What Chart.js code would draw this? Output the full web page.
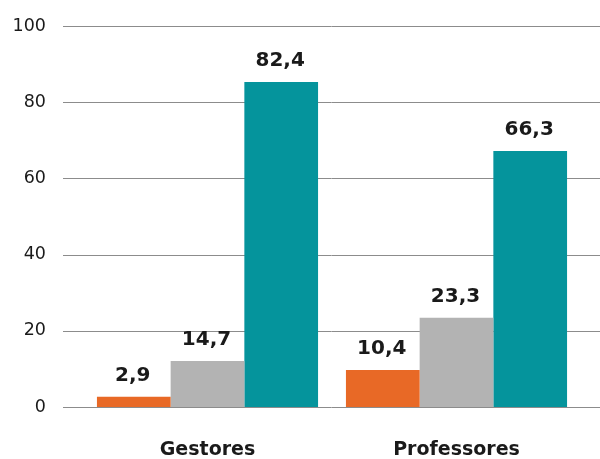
<!DOCTYPE html>
<html>
<head>
<meta charset="utf-8">
<script src="https://cdn.jsdelivr.net/npm/chart.js@4.4.1/dist/chart.umd.min.js"></script>
<style>
  html, body { margin: 0; padding: 0; background: #fff; }
  #wrap { width: 600px; height: 459px; }
</style>
</head>
<body>
<div id="wrap"><canvas id="myChart"></canvas></div>
<script>
// dados
const categorias = ['Gestores', 'Professores'];
const serieLaranja = [2.7, 9.7];
const serieCinza = [12.1, 23.4];
const serieVerde = [85.3, 67.2];
const rotulosLaranja = ['2,9', '10,4'];
const rotulosCinza = ['14,7', '23,3'];
const rotulosVerde = ['82,4', '66,3'];

const corTexto = '#1a1a1a';
const fonte = "'DejaVu Sans', sans-serif";

// linhas de grade horizontais, um pouco mais largas que a area do grafico
const grade = {
  id: 'grade',
  beforeDatasetsDraw: (chart) => {
    const ctx = chart.ctx;
    const y = chart.scales.y;
    ctx.save();
    ctx.strokeStyle = '#8c8c8c';
    ctx.lineWidth = 1;
    y.ticks.forEach(t => {
      const py = Math.round(y.getPixelForValue(t.value)) + 0.5;
      ctx.beginPath();
      ctx.moveTo(chart.chartArea.left - 20, py);
      ctx.lineTo(chart.width, py);
      ctx.stroke();
    });
    ctx.restore();
  }
};

// rotulos em cima das barras
const rotulos = {
  id: 'rotulos',
  afterDatasetsDraw: (chart) => {
    const ctx = chart.ctx;
    ctx.save();
    ctx.font = 'bold 20px ' + fonte;
    ctx.fillStyle = corTexto;
    ctx.textAlign = 'center';
    ctx.textBaseline = 'bottom';
    chart.data.datasets.forEach((ds, i) => {
      chart.getDatasetMeta(i).data.forEach((bar, j) => {
        ctx.fillText(ds.rotulos[j], bar.x - 1, bar.y - 11);
      });
    });
    ctx.restore();
  }
};

let plot = () => {
  const ctx = document.getElementById('myChart');
  const dataset = {
    labels: categorias,
    datasets: [
      { label: 'Laranja', data: serieLaranja, rotulos: rotulosLaranja, backgroundColor: 'rgb(232, 105, 38)' },
      { label: 'Cinza', data: serieCinza, rotulos: rotulosCinza, backgroundColor: 'rgb(179, 179, 179)' },
      { label: 'Verde', data: serieVerde, rotulos: rotulosVerde, backgroundColor: 'rgb(5, 148, 156)' }
    ]
  };
  const config = {
    type: 'bar',
    data: dataset,
    options: {
      responsive: true,
      maintainAspectRatio: false,
      animation: false,
      categoryPercentage: 0.888,
      barPercentage: 1,
      layout: { padding: { left: 12, right: 19, top: 26, bottom: 0 } },
      plugins: { legend: { display: false }, tooltip: { enabled: false } },
      scales: {
        x: {
          grid: { display: false, drawTicks: false },
          border: { display: false },
          ticks: { color: corTexto, font: { family: fonte, size: 19, weight: 'bold' }, padding: 32 },
          afterFit: (scale) => { scale.height = 52; }
        },
        y: {
          min: 0,
          max: 100,
          grid: { display: false, drawTicks: false },
          border: { display: false },
          ticks: { stepSize: 20, color: corTexto, font: { family: fonte, size: 17.5 }, padding: 37 },
          afterFit: (scale) => {
            scale.width = 71;
            scale.paddingTop = 0;
            scale.paddingBottom = 0;
          }
        }
      }
    },
    plugins: [grade, rotulos]
  };
  const chart = new Chart(ctx, config);
};

plot();
</script>
</body>
</html>
